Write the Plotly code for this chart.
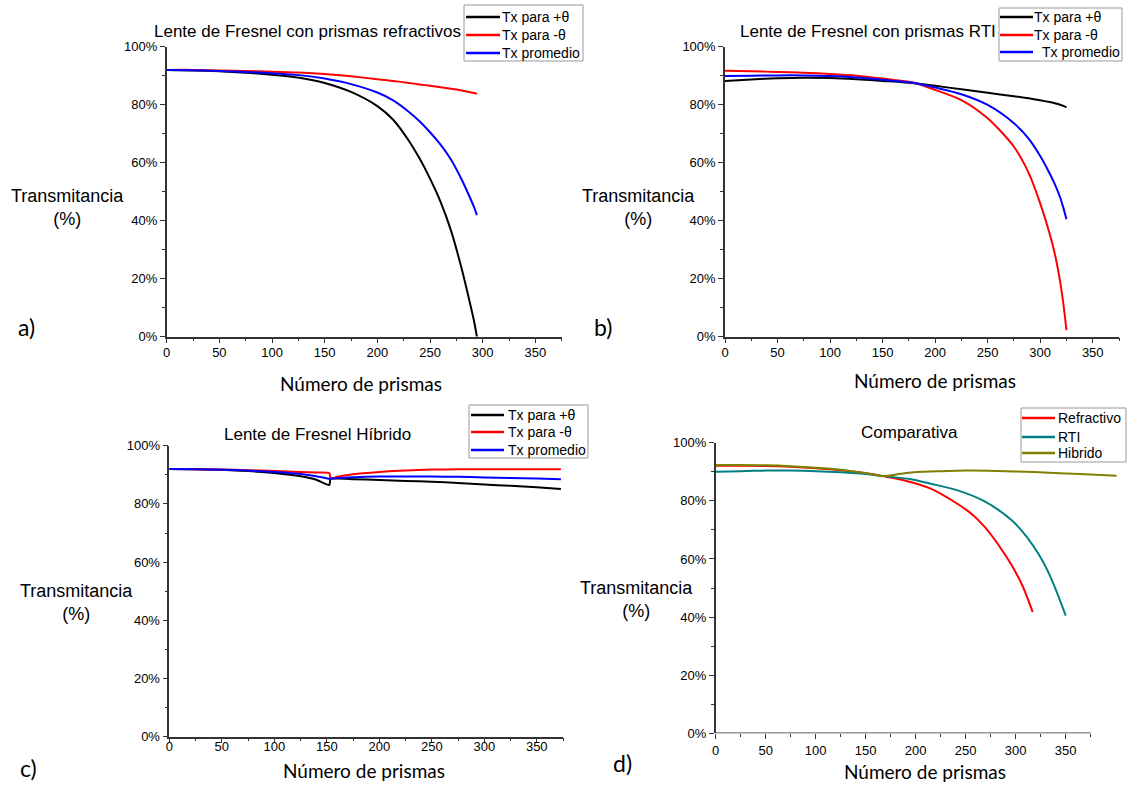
import plotly.graph_objects as go

W, H = 1131, 789

# ---- a) refractive prisms ----
xa = [0, 25, 50, 75, 100, 126, 150, 175, 200, 215, 230, 240, 250, 260, 270, 280, 287, 292, 294.5]
a_pos = [92.0, 91.8, 91.5, 91.0, 90.3, 89.3, 87.5, 84.4, 79.5, 74.8, 67.5, 61.5, 54.5, 46.5, 36.5, 23.5, 13.0, 5.0, 0.0]
a_neg = [92.0, 92.0, 91.8, 91.6, 91.4, 91.1, 90.6, 89.8, 88.8, 88.2, 87.5, 87.0, 86.5, 86.0, 85.5, 84.9, 84.4, 84.0, 83.8]
a_avg = [92.0, 91.9, 91.65, 91.3, 90.85, 90.2, 89.0, 87.1, 84.2, 81.5, 77.5, 74.3, 70.5, 66.2, 61.0, 54.2, 48.7, 44.5, 41.9]

# ---- b) RTI prisms ----
xb = [0, 25, 50, 75, 100, 125, 150, 180, 200, 225, 250, 275, 289, 300, 309, 313, 316, 319, 322, 325]
b_pos = [88.2, 88.7, 89.1, 89.3, 89.2, 88.8, 88.2, 87.4, 86.5, 85.3, 84.1, 82.9, 82.2, 81.5, 80.9, 80.6, 80.3, 80.0, 79.6, 79.1]
b_neg = [91.7, 91.5, 91.3, 91.0, 90.6, 90.0, 89.0, 87.6, 85.1, 81.6, 75.3, 65.5, 56.5, 46.0, 35.5, 30.0, 25.0, 19.0, 11.5, 2.3]
b_avg = [89.9, 90.0, 90.1, 90.1, 89.9, 89.4, 88.6, 87.5, 85.9, 83.6, 79.9, 73.6, 68.3, 62.3, 56.3, 53.3, 50.8, 48.0, 44.5, 40.5]

# ---- c) hybrid lens ----
xc = [0, 25, 50, 75, 100, 125, 140, 152.5, 153.5, 160, 175, 200, 225, 250, 275, 300, 325, 350, 373]
c_pos = [92.0, 91.9, 91.7, 91.3, 90.6, 89.5, 88.3, 86.5, 88.7, 88.7, 88.5, 88.2, 87.9, 87.6, 87.2, 86.7, 86.2, 85.7, 85.1]
c_neg = [92.0, 91.9, 91.8, 91.6, 91.3, 91.0, 90.8, 90.6, 88.6, 89.3, 90.2, 91.0, 91.5, 91.8, 91.9, 91.9, 91.9, 91.9, 91.9]
c_avg = [92.0, 91.9, 91.75, 91.45, 90.95, 90.25, 89.5, 88.6, 88.6, 88.9, 89.2, 89.4, 89.4, 89.4, 89.3, 89.1, 88.9, 88.7, 88.5]

# ---- d) comparison ----
xd_ref = [0, 25, 50, 75, 100, 125, 150, 168, 188, 215, 242, 258, 269, 283, 296, 307, 317]
d_ref = [92.1, 92.1, 92.0, 91.7, 91.2, 90.5, 89.5, 88.5, 87.1, 84.2, 78.9, 74.9, 71.0, 64.7, 57.8, 50.6, 41.7]
xd_rti = [0, 25, 50, 75, 100, 125, 150, 168, 194, 215, 242, 269, 296, 311, 323, 332, 340, 350]
d_rti = [90.0, 90.2, 90.4, 90.4, 90.2, 89.8, 89.2, 88.5, 87.5, 85.9, 83.6, 79.8, 73.3, 67.6, 61.6, 55.9, 49.5, 40.5]
xd_hib = [0, 25, 50, 75, 100, 125, 134, 150, 168, 185, 201, 225, 251, 280, 318, 350, 380, 401]
d_hib = [92.3, 92.3, 92.2, 91.9, 91.4, 90.7, 90.3, 89.6, 88.5, 89.3, 89.9, 90.2, 90.4, 90.3, 89.9, 89.4, 89.0, 88.6]

y_ticks = [0, 20, 40, 60, 80, 100]
y_labels = ["0%", "20%", "40%", "60%", "80%", "100%"]
x_ticks = [0, 50, 100, 150, 200, 250, 300, 350]

ARIAL = "Liberation Sans, Arial, sans-serif"
CAL = "Lato, Carlito, Calibri, sans-serif"
AXC = "#333333"

fig = go.Figure()

def line(x, y, color, ax, smooth=0.8):
    fig.add_trace(go.Scatter(
        x=x, y=y, mode="lines", showlegend=False, hoverinfo="skip",
        line=dict(color=color, width=2, shape="spline", smoothing=smooth),
        xaxis="x" + ax, yaxis="y" + ax,
    ))

line(xa, a_pos, "#000000", "")
line(xa, a_neg, "#ff0000", "")
line(xa, a_avg, "#0000ff", "")

line(xb, b_pos, "#000000", "2")
line(xb, b_neg, "#ff0000", "2")
line(xb, b_avg, "#0000ff", "2")

line(xc, c_pos, "#000000", "3", 0.5)
line(xc, c_neg, "#ff0000", "3", 0.5)
line(xc, c_avg, "#0000ff", "3", 0.5)

line(xd_ref, d_ref, "#ff0000", "4")
line(xd_rti, d_rti, "#008080", "4")
line(xd_hib, d_hib, "#808000", "4")


def xaxis(x0, x1, yname, xmax=375, showline=True, standoff=0):
    return dict(
        domain=[x0 / W, x1 / W], range=[0, xmax], anchor=yname,
        showline=showline, linecolor=AXC, linewidth=1.5,
        ticks="outside", ticklen=5, tickwidth=1.2, tickcolor=AXC,
        tickvals=x_ticks, ticklabelstandoff=standoff,
        minor=dict(tickvals=[25, 75, 125, 175, 225, 275, 325, 375],
                   ticks="outside", ticklen=3, tickwidth=1, tickcolor=AXC),
        showgrid=False, zeroline=False, fixedrange=True,
        tickfont=dict(family=ARIAL, size=13, color="black"),
    )


def yaxis(y0, y1, xname):
    return dict(
        domain=[1 - y1 / H, 1 - y0 / H], range=[0, 100], anchor=xname,
        showline=True, linecolor=AXC, linewidth=1.5,
        ticks="outside", ticklen=5, tickwidth=1.2, tickcolor=AXC,
        tickvals=y_ticks, ticktext=y_labels,
        minor=dict(tickvals=[10, 30, 50, 70, 90], ticks="outside",
                   ticklen=3, tickwidth=1, tickcolor=AXC),
        showgrid=False, zeroline=False, fixedrange=True,
        tickfont=dict(family=ARIAL, size=13, color="black"),
    )


fig.update_layout(
    width=W, height=H,
    margin=dict(l=0, r=0, t=0, b=0, pad=0, autoexpand=False),
    paper_bgcolor="white", plot_bgcolor="white",
    showlegend=False,
    xaxis=xaxis(166.7, 561.7, "y", standoff=-2), yaxis=yaxis(46.7, 336.7, "x"),
    xaxis2=xaxis(725, 1119, "y2", standoff=-2), yaxis2=yaxis(46.7, 336.7, "x2"),
    xaxis3=xaxis(169.3, 563, "y3", standoff=-8), yaxis3=yaxis(445.7, 736.7, "x3"),
    xaxis4=xaxis(715.7, 1116.7, "y4", xmax=401, showline=False),
    yaxis4=yaxis(442.7, 733.3, "x4"),
)

shapes = []
ann = []

# bottom axis line of panel d stops at 375 while the hybrid curve runs past it
shapes.append(dict(type="line", xref="x4", yref="y4", x0=0, x1=375, y0=0, y1=0,
                   line=dict(color=AXC, width=1.5), layer="above"))


def text(px, py, s, size, family, anchor="center"):
    ann.append(dict(x=px / W, y=1 - py / H, xref="paper", yref="paper",
                    text=s, showarrow=False, xanchor=anchor, yanchor="middle",
                    font=dict(family=family, size=size, color="black")))


def legend_box(box, line_x, text_x, rows):
    """box=(x0,y0,x1,y1) in pixels; rows=[(y, color, label, text_dx)]"""
    x0, y0, x1, y1 = box
    shapes.append(dict(type="rect", xref="paper", yref="paper",
                       x0=x0 / W, x1=x1 / W, y0=1 - y1 / H, y1=1 - y0 / H,
                       fillcolor="white", line=dict(color="#999999", width=1),
                       layer="above"))
    for y, color, label, dx in rows:
        shapes.append(dict(type="line", xref="paper", yref="paper",
                           x0=line_x[0] / W, x1=line_x[1] / W,
                           y0=1 - y / H, y1=1 - y / H,
                           line=dict(color=color, width=2.5), layer="above"))
        text(text_x + dx, y, label, 14, ARIAL, anchor="left")


legend_box((464, 5, 583, 61), (466, 500), 500,
           [(17, "#000000", "Tx para +θ", 0),
            (35, "#ff0000", "Tx para -θ", 0),
            (53, "#0000ff", "Tx promedio", 0)])
legend_box((999, 8, 1122, 61), (1000, 1033), 1032,
           [(17, "#000000", "Tx para +θ", 0),
            (35, "#ff0000", "Tx para -θ", 0),
            (52, "#0000ff", "Tx promedio", 8)])
legend_box((469, 405, 588, 458), (471, 504), 506,
           [(415, "#000000", "Tx para +θ", 0),
            (432, "#ff0000", "Tx para -θ", 0),
            (450, "#0000ff", "Tx promedio", 0)])
legend_box((1021, 408, 1126, 462), (1022, 1055), 1056,
           [(418, "#ff0000", "Refractivo", 0),
            (437, "#008080", "RTI", 0),
            (453, "#808000", "Hibrido", 0)])

# panel titles
text(307, 32, "Lente de Fresnel con prismas refractivos", 17, ARIAL)
text(868, 32, "Lente de Fresnel con prismas RTI", 17, ARIAL)
text(317, 434, "Lente de Fresnel Híbrido", 17, ARIAL)
text(909, 432, "Comparativa", 17, ARIAL)

# y titles
for cx, cy in [(67, 207), (638, 207), (76, 602), (636, 599)]:
    text(cx, cy, "Transmitancia<br>(%)", 18, ARIAL)

# x titles
for cx, cy in [(361, 384), (935, 380), (364, 770), (925, 771)]:
    text(cx, cy, "Número de prismas", 19, CAL)

# panel letters
text(27, 327, "a)", 23, CAL)
text(603, 327, "b)", 23, CAL)
text(28, 768, "c)", 23, CAL)
text(622, 763, "d)", 23, CAL)

fig.update_layout(shapes=shapes, annotations=ann)

fig.write_html("out.html")
